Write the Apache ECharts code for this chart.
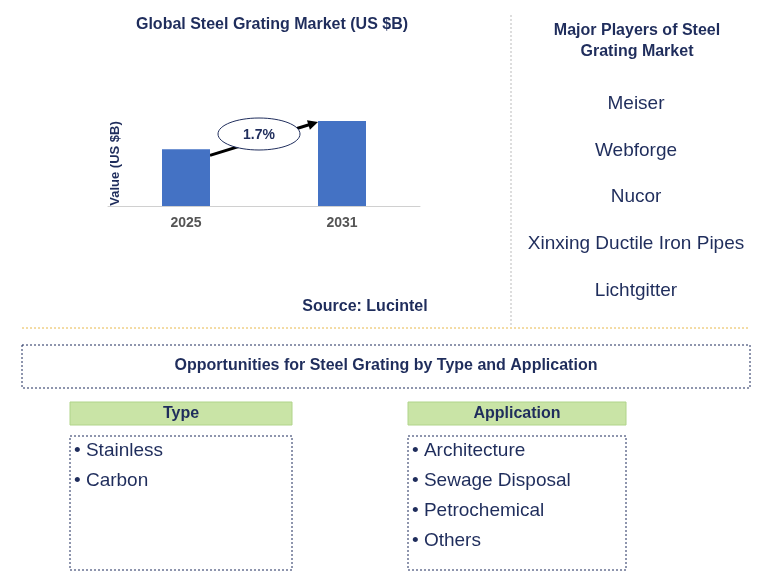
<!DOCTYPE html>
<html>
<head>
<meta charset="utf-8">
<script src="https://cdn.jsdelivr.net/npm/echarts@6/dist/echarts.min.js"></script>
<style>html,body{margin:0;padding:0;background:#fff}#main{width:773px;height:578px}</style>
</head>
<body>
<div id="main"></div>
<script>
// 数据
const years = ['2025', '2031'];
const values = [2.0, 3.0];
const cagr = '1.7%';
const players = ['Meiser', 'Webforge', 'Nucor', 'Xinxing Ductile Iron Pipes', 'Lichtgitter'];
const types = ['Stainless', 'Carbon'];
const applications = ['Architecture', 'Sewage Disposal', 'Petrochemical', 'Others'];

const navy = '#1f2d5c';
const font = 'Arial, "Liberation Sans", sans-serif';

let chart = echarts.init(document.getElementById('main'));

function txt(x, y, s, opt) {
  return {
    type: 'text', x: x, y: y,
    style: Object.assign({text: s, fill: '#000', font: '19px ' + font, align: 'left', verticalAlign: 'middle'}, opt || {})
  };
}

let g = [];
g.push(txt(272, 25, 'Global Steel Grating Market (US $B)', {align: 'center', fill: navy, font: 'bold 16px ' + font}));
g.push(txt(365, 307, 'Source: Lucintel', {align: 'center', fill: navy, font: 'bold 16px ' + font}));
g.push({type: 'line', shape: {x1: 511, y1: 15, x2: 511, y2: 325}, style: {stroke: '#bbb', lineDash: [2, 2], lineWidth: 1}});
g.push(txt(637, 31, 'Major Players of Steel', {align: 'center', fill: navy, font: 'bold 16px ' + font}));
g.push(txt(637, 52, 'Grating Market', {align: 'center', fill: navy, font: 'bold 16px ' + font}));
[104, 151, 197, 244, 291].forEach(function (y, i) {
  g.push(txt(636, y, players[i], {align: 'center', fill: navy}));
});
g.push({type: 'line', shape: {x1: 22, y1: 328, x2: 750, y2: 328}, style: {stroke: '#e8b84a', lineDash: [2, 2], lineWidth: 1}});
g.push({type: 'rect', shape: {x: 22, y: 345, width: 728, height: 43}, style: {fill: 'none', stroke: navy, lineDash: [2, 2], lineWidth: 1}});
g.push(txt(386, 366, 'Opportunities for Steel Grating by Type and Application', {align: 'center', fill: navy, font: 'bold 16px ' + font}));

function panel(x, w, title, items) {
  g.push({type: 'rect', shape: {x: x, y: 402, width: w, height: 23}, style: {fill: '#c9e4a6', stroke: '#b0d48a', lineWidth: 1}});
  g.push(txt(x + w / 2, 414, title, {align: 'center', fill: navy, font: 'bold 16px ' + font}));
  g.push({type: 'rect', shape: {x: x, y: 436, width: w, height: 134}, style: {fill: 'none', stroke: navy, lineDash: [2, 2], lineWidth: 1}});
  items.forEach(function (s, i) {
    g.push(txt(x + 4, 451 + i * 30, '• ' + s, {fill: navy}));
  });
}
panel(70, 222, 'Type', types);
panel(408, 218, 'Application', applications);

chart.setOption({
  animation: false,
  grid: {left: 108, right: 773 - 420, top: 121, bottom: 578 - 206},
  xAxis: {
    type: 'category', data: years,
    axisLine: {lineStyle: {color: '#d0d0d0'}},
    axisTick: {show: false},
    axisLabel: {color: '#555', fontWeight: 'bold', fontSize: 14, fontFamily: font, margin: 10}
  },
  yAxis: {
    type: 'value', min: 0, max: 3,
    name: 'Value (US $B)', nameLocation: 'middle', nameGap: -14, nameRotate: 90,
    nameTextStyle: {color: navy, fontWeight: 'bold', fontSize: 13, fontFamily: font},
    axisLine: {show: false}, axisTick: {show: false}, axisLabel: {show: false}, splitLine: {show: false}
  },
  series: [{type: 'bar', data: values, barWidth: 48, itemStyle: {color: '#4472c4'}}],
  graphic: g
});

// 增长箭头和椭圆
let p1 = chart.convertToPixel({seriesIndex: 0}, [0, values[0]]);
let p2 = chart.convertToPixel({seriesIndex: 0}, [1, values[1]]);
let a = [p1[0] + 24, p1[1] + 6], b = [p2[0] - 24, p2[1] + 1];
let ang = Math.atan2(b[1] - a[1], b[0] - a[0]);
let h = 10;
g.push({type: 'line', shape: {x1: a[0], y1: a[1], x2: b[0] - Math.cos(ang) * 6, y2: b[1] - Math.sin(ang) * 6}, style: {stroke: '#000', lineWidth: 3}});
g.push({type: 'polygon', shape: {points: [b,
  [b[0] - h * Math.cos(ang) + 5 * Math.sin(ang), b[1] - h * Math.sin(ang) - 5 * Math.cos(ang)],
  [b[0] - h * Math.cos(ang) - 5 * Math.sin(ang), b[1] - h * Math.sin(ang) + 5 * Math.cos(ang)]]}, style: {fill: '#000'}});
g.push({type: 'ellipse', shape: {cx: 259, cy: 134, rx: 41, ry: 16}, style: {fill: '#fff', stroke: navy, lineWidth: 1}});
g.push(txt(259, 135, cagr, {align: 'center', fill: navy, font: 'bold 14px ' + font}));
chart.setOption({graphic: g}, {replaceMerge: ['graphic']});
</script>
</body>
</html>
